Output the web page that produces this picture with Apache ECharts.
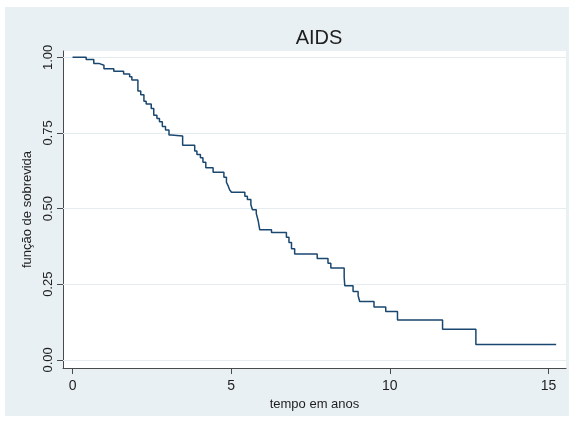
<!DOCTYPE html>
<html>
<head>
<meta charset="utf-8">
<script src="https://cdn.jsdelivr.net/npm/echarts@6/dist/echarts.min.js"></script>
<style>
  html, body { margin: 0; padding: 0; background: #fff; }
  #chart { width: 573px; height: 422px; }
</style>
</head>
<body>
<div id="chart"></div>
<script>
// tempo (anos) e função de sobrevida (Kaplan-Meier)
const tempo = [0, 0.43, 0.67, 0.83, 0.99, 1.30, 1.61, 1.80, 1.87, 2.06, 2.15, 2.25, 2.32, 2.48, 2.56, 2.66, 2.74, 2.83, 2.93, 3.04, 3.11,
  3.47, 3.85, 3.92, 4.03, 4.11, 4.20, 4.43, 4.77, 4.85, 4.90, 4.95, 5.01, 5.43, 5.51, 5.62, 5.67, 5.79, 5.85, 5.90, 6.27,
  6.74, 6.82, 6.90, 7.00, 7.71, 8.05, 8.14, 8.56, 8.58, 8.84, 9.00, 9.05, 9.50, 9.87, 10.24, 11.66, 12.71, 15.24]
const sobrevida = [1, 0.993, 0.980, 0.974, 0.962, 0.954, 0.945, 0.936, 0.925, 0.889, 0.876, 0.855, 0.846, 0.831, 0.809, 0.798, 0.787, 0.771, 0.760, 0.743, 0.740,
  0.709, 0.690, 0.679, 0.668, 0.653, 0.635, 0.620, 0.604, 0.587, 0.576, 0.562, 0.554, 0.541, 0.530, 0.513, 0.496, 0.484, 0.460, 0.430, 0.421,
  0.405, 0.388, 0.367, 0.350, 0.335, 0.319, 0.304, 0.273, 0.245, 0.226, 0.212, 0.193, 0.175, 0.160, 0.132, 0.101, 0.051, 0.051]

const xTicks = [0, 5, 10, 15]
const yTicks = [0, 0.25, 0.5, 0.75, 1]

const chart = echarts.init(document.getElementById('chart'))

const font = 'Liberation Sans, Arial, sans-serif'
const axisColor = '#4a4a4a'

const option = {
  backgroundColor: '#fff',
  animation: false,
  graphic: [
    {
      type: 'rect',
      z: -10,
      shape: { x: 5, y: 7, width: 564, height: 409 },
      style: { fill: '#e9f0f3' }
    },
    {
      type: 'rect',
      z: -9,
      shape: { x: 63, y: 51, width: 503, height: 317 },
      style: { fill: '#ffffff' }
    }
  ],
  title: {
    text: 'AIDS',
    left: 314,
    textAlign: 'center',
    top: 23,
    textStyle: { fontFamily: font, fontSize: 20, fontWeight: 'normal', color: '#1e1e1e' }
  },
  grid: { left: 63, right: 7, top: 51, bottom: 54, containLabel: false },
  xAxis: {
    type: 'value',
    min: -0.3,
    max: 15.55,
    name: 'tempo em anos',
    nameLocation: 'middle',
    nameGap: 29,
    nameTextStyle: { fontFamily: font, fontSize: 13, color: '#1e1e1e' },
    axisLine: { onZero: false, lineStyle: { color: axisColor, width: 1 } },
    axisTick: { show: true, customValues: xTicks, length: 6, lineStyle: { color: axisColor } },
    axisLabel: { customValues: xTicks, margin: 11, fontFamily: font, fontSize: 14, color: '#1e1e1e' },
    splitLine: { show: false }
  },
  yAxis: {
    type: 'value',
    min: -0.027,
    max: 1.021,
    name: 'função de sobrevida',
    nameLocation: 'middle',
    nameGap: 23,
    nameTextStyle: { fontFamily: font, fontSize: 13, color: '#1e1e1e' },
    axisLine: { show: true, onZero: false, lineStyle: { color: axisColor, width: 1 } },
    axisTick: { show: true, customValues: yTicks, length: 6, lineStyle: { color: axisColor } },
    axisLabel: {
      customValues: yTicks,
      rotate: 90,
      margin: 8,
      fontFamily: font,
      fontSize: 13,
      color: '#1e1e1e',
      formatter: v => v.toFixed(2)
    },
    splitLine: { show: false }
  },
  series: [
    {
      type: 'line',
      step: 'end',
      showSymbol: false,
      data: tempo.map((t, i) => [t, sobrevida[i]]),
      lineStyle: { color: '#1a476f', width: 1.5 },
      markLine: {
        silent: true,
        symbol: 'none',
        label: { show: false },
        lineStyle: { color: '#e4ecef', width: 1, type: 'solid' },
        z: 1,
        data: yTicks.map(v => ({ yAxis: v }))
      }
    }
  ]
}

chart.setOption(option)
</script>
</body>
</html>
